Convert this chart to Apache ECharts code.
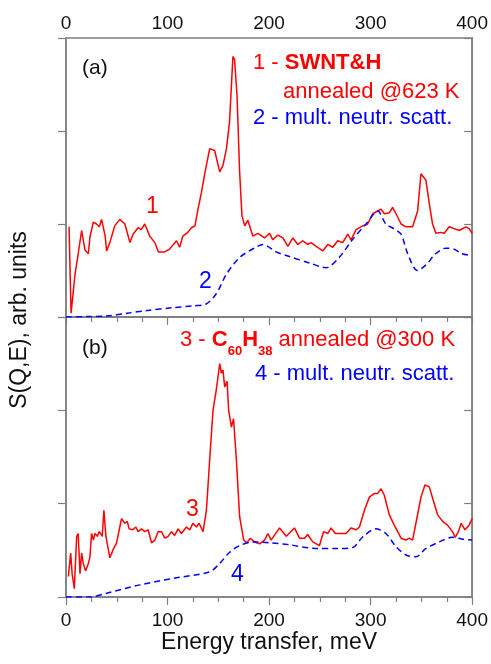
<!DOCTYPE html>
<html>
<head>
<meta charset="utf-8">
<script src="https://cdn.jsdelivr.net/npm/echarts@6/dist/echarts.min.js"></script>
<style>
  html, body { margin: 0; padding: 0; background: #fff; }
  #chart { width: 491px; height: 664px; }
</style>
</head>
<body>
<div id="chart"></div>
<script>
// (a) SWNT&H annealed @623 K, curve 1
var energy1 = [3, 5, 9, 12, 15.4, 18.7, 22, 23.6, 26.9,
  30, 32.9, 35, 38.6, 40, 43.2, 48, 53, 58, 63,
  66, 71, 74, 77.6, 82.5, 87.5, 91, 97, 102, 108.8,
  112, 115, 120, 123.5, 127, 130, 133.4, 136.6, 138, 141.5,
  146.4, 151.4, 154.6, 158, 161, 164.4, 166, 168.4, 171, 173.3,
  176, 179, 184, 189, 195.6, 200.5, 203.7, 208.6, 213.6, 218.5,
  223.4, 228.3, 233.2, 238, 241.4, 246.4, 252.9, 257.8, 262.7, 267.6,
  272.5, 277.5, 280.7, 285.7, 292.2, 297.1, 302, 307, 310.3, 313.5,
  318.4, 321.7, 325, 330, 334.8, 341.4, 346.3, 349.6, 354.5, 357.8,
  361, 364.3, 369.2, 372.5, 377.4, 382.3, 387.2, 393.8, 397, 400];
var sqe1 = [0.97, 0.04, 0.47, 0.68, 0.93, 0.72, 0.68, 0.86, 1.02,
  1.00, 0.97, 1.05, 0.87, 0.71, 0.80, 0.98, 1.05, 1.00, 0.80,
  0.89, 0.96, 0.94, 1.00, 0.87, 0.80, 0.70, 0.70, 0.73, 0.82,
  0.75, 0.87, 0.91, 0.96, 0.98, 1.16, 1.34, 1.54, 1.56, 1.81,
  1.79, 1.56, 1.63, 1.81, 2.09, 2.80, 2.77, 2.39, 1.56, 1.09,
  0.98, 1.04, 0.87, 0.90, 0.85, 0.90, 0.83, 0.88, 0.85, 0.76,
  0.85, 0.78, 0.82, 0.78, 0.80, 0.76, 0.71, 0.78, 0.75, 0.82,
  0.80, 0.89, 0.83, 0.94, 0.98, 1.00, 1.11, 1.14, 1.16, 1.11,
  1.12, 1.18, 1.11, 1.00, 0.97, 0.97, 1.14, 1.54, 1.47, 1.22,
  1.00, 0.90, 0.91, 0.90, 0.97, 0.95, 0.93, 0.97, 0.95, 0.90];

// (a) multiple neutron scattering, curve 2
var energy2 = [0, 20, 40, 60, 80, 105, 125, 138, 148, 158,
  171, 187, 194, 207, 220, 240, 256, 269, 282, 295.5,
  307, 315, 323, 330, 336.5, 346, 354.5, 364, 374, 382, 390, 400];
var sqe2 = [0, 0.005, 0.01, 0.04, 0.07, 0.10, 0.12, 0.14, 0.25, 0.46,
  0.64, 0.75, 0.78, 0.70, 0.65, 0.58, 0.53, 0.64, 0.83, 1.00,
  1.14, 1.00, 0.95, 0.89, 0.68, 0.50, 0.56, 0.68, 0.74, 0.73, 0.68, 0.66];

// (b) C60H38 annealed @300 K, curve 3
var energy3 = [2.3, 4.6, 6, 8.2, 10.5, 12, 13.8, 15.4, 17, 19.3,
  22, 23.6, 25.2, 27, 28.5, 30.8, 32.8, 34.4, 35.7, 37.3,
  39.3, 43.2, 46.5, 49.8, 53, 54.7, 58, 60.3, 62.2, 65.5,
  68.8, 71, 74.4, 77.6, 80.9, 84.2, 87.5, 90.7, 94, 97.3,
  100.6, 103.9, 107, 110.4, 113.7, 118.6, 121.9, 125, 128.5, 131,
  135, 138.3, 141.5, 144.8, 148, 149.7, 151.4, 153, 154.6, 156.3,
  158.6, 160.2, 162.9, 165, 167.8, 171, 175, 178, 181.5, 185.7,
  190.7, 195.6, 198.8, 202, 210.3, 216.9, 225, 230, 235, 238,
  243, 249.6, 253.6, 257.8, 261, 265.3, 275.8, 280.7, 285.7, 289,
  293.9, 298.8, 303.7, 307, 310.3, 313.5, 318.4, 323.3, 330, 334.8,
  338, 341.4, 344.6, 349.6, 353.5, 357.8, 362.7, 366, 370.9, 375.7,
  380.6, 383.3, 386.5, 389.2, 393, 397, 400];
var sqe3 = [0.22, 0.47, 0.25, 0.09, 0.65, 0.68, 0.25, 0.47, 0.36, 0.28,
  0.36, 0.43, 0.68, 0.61, 0.68, 0.65, 0.70, 0.72, 0.65, 0.93,
  0.65, 0.42, 0.51, 0.58, 0.75, 0.84, 0.79, 0.81, 0.73, 0.72,
  0.75, 0.70, 0.73, 0.70, 0.72, 0.58, 0.61, 0.70, 0.70, 0.63,
  0.65, 0.70, 0.66, 0.73, 0.68, 0.75, 0.72, 0.79, 0.75, 0.79,
  0.70, 0.93, 1.47, 2.00, 2.22, 2.36, 2.50, 2.40, 2.43, 2.25,
  2.31, 2.00, 1.82, 1.91, 1.47, 0.86, 0.61, 0.58, 0.63, 0.59,
  0.57, 0.61, 0.68, 0.61, 0.74, 0.65, 0.74, 0.63, 0.63, 0.67,
  0.59, 0.55, 0.70, 0.68, 0.74, 0.68, 0.68, 0.74, 0.72, 0.75,
  0.93, 1.07, 1.11, 1.11, 1.16, 1.09, 0.88, 0.77, 0.63, 0.61,
  0.63, 0.61, 0.79, 1.07, 1.20, 1.18, 1.00, 0.88, 0.81, 0.77,
  0.70, 0.64, 0.70, 0.79, 0.72, 0.77, 0.84];

// (b) multiple neutron scattering, curve 4
var energy4 = [0, 23.6, 40, 72.7, 105.5, 141.5, 151.4, 161.2, 171, 184,
  200.5, 220, 246, 266, 282.3, 292, 305, 315, 325, 334.8,
  344.6, 354.5, 367.5, 380.6, 390.5, 400];
var sqe4 = [0, 0, 0.04, 0.13, 0.20, 0.27, 0.36, 0.48, 0.55, 0.59,
  0.58, 0.56, 0.52, 0.52, 0.53, 0.64, 0.73, 0.68, 0.54, 0.45,
  0.43, 0.52, 0.59, 0.64, 0.62, 0.61];

var xTicks = [0, 100, 200, 300, 400];

function zip(xs, ys) {
  return xs.map(function (x, i) { return [x, ys[i]]; });
}

var FONT = "'Liberation Sans', Arial, sans-serif";
var RED = "#ff0000";
var BLUE = "#0000ff";
var AXIS = "#7f7f7f";

var chart = echarts.init(document.getElementById("chart"));

function yAx(grid, pos) {
  return {
    type: "value", gridIndex: grid, position: pos,
    min: 0, max: 3, interval: 1,
    axisLine: { show: true, lineStyle: { color: AXIS, width: 1.5 } },
    axisTick: { show: true, inside: pos === "right", length: 8, lineStyle: { color: AXIS, width: 1.2 } },
    axisLabel: { show: false },
    splitLine: { show: false }
  };
}

function xAx(grid, pos) {
  return {
    type: "value", gridIndex: grid, position: pos,
    min: xTicks[0], max: xTicks[xTicks.length - 1], interval: 100,
    axisLine: { show: true, lineStyle: { color: AXIS, width: 1.5 } },
    axisTick: { show: true, inside: pos === "top", length: 8, lineStyle: { color: AXIS, width: 1.2 } },
    minorTick: { show: true, splitNumber: 4, length: 5, lineStyle: { color: AXIS, width: 1.2 } },
    axisLabel: { color: "#111", fontSize: 19, fontFamily: FONT, margin: pos === "top" ? 5 : 14 },
    splitLine: { show: false }
  };
}

var bottomX = xAx(1, "bottom");
bottomX.name = "Energy transfer, meV";
bottomX.nameLocation = "middle";
bottomX.nameGap = 33;
bottomX.nameTextStyle = { color: "#111", fontSize: 23, fontFamily: FONT };

function txt(x, y, text, color, size, extra) {
  var s = { text: text, fill: color, fontSize: size, fontFamily: FONT, align: "left", verticalAlign: "middle" };
  for (var k in extra) s[k] = extra[k];
  return { type: "text", x: x, y: y, z: 100, style: s };
}

var option = {
  animation: false,
  backgroundColor: "#fff",
  grid: [
    { left: 66, top: 38, width: 407, height: 279, show: true, borderColor: AXIS, borderWidth: 1.5 },
    { left: 66, top: 317, width: 407, height: 280, show: true, borderColor: AXIS, borderWidth: 1.5 }
  ],
  xAxis: [xAx(0, "top"), bottomX],
  yAxis: [yAx(0, "left"), yAx(0, "right"), yAx(1, "left"), yAx(1, "right")],
  series: [
    { type: "line", xAxisIndex: 0, yAxisIndex: 0, data: zip(energy1, sqe1), symbol: "none",
      lineStyle: { color: RED, width: 1.5 } },
    { type: "line", xAxisIndex: 0, yAxisIndex: 0, data: zip(energy2, sqe2), symbol: "none", smooth: 0.3,
      lineStyle: { color: BLUE, width: 1.5, type: [6, 4] } },
    { type: "line", xAxisIndex: 1, yAxisIndex: 2, data: zip(energy3, sqe3), symbol: "none",
      lineStyle: { color: RED, width: 1.5 } },
    { type: "line", xAxisIndex: 1, yAxisIndex: 2, data: zip(energy4, sqe4), symbol: "none", smooth: 0.3,
      lineStyle: { color: BLUE, width: 1.5, type: [6, 4] } }
  ],
  graphic: [
    { type: "text", x: 20, y: 320, rotation: Math.PI / 2,
      style: { text: "S(Q,E), arb. units", fill: "#111", fontSize: 23, fontFamily: FONT, align: "center", verticalAlign: "middle" } },
    txt(82, 68, "(a)", "#111", 21),
    txt(82, 348, "(b)", "#111", 21),
    txt(146, 207, "1", RED, 23),
    txt(199, 282, "2", BLUE, 23),
    txt(186, 510, "3", RED, 23),
    txt(231, 575, "4", BLUE, 23),
    txt(253, 63, "{n|1 - }{b|SWNT&H}", RED, 22, {
      rich: { n: { fill: RED, fontSize: 22, fontFamily: FONT }, b: { fill: RED, fontSize: 22, fontWeight: "bold", fontFamily: FONT } }
    }),
    txt(283, 92, "annealed @623 K", RED, 22),
    txt(253, 118, "2 - mult. neutr. scatt.", BLUE, 22),
    txt(180, 340, "{n|3 - }{b|C}{s|60}{b|H}{s|38}{n| annealed @300 K}", RED, 22, {
      rich: {
        n: { fill: RED, fontSize: 22, fontFamily: FONT },
        b: { fill: RED, fontSize: 22, fontWeight: "bold", fontFamily: FONT },
        s: { fill: RED, fontSize: 13, fontWeight: "bold", fontFamily: FONT, padding: [22, 0, 0, 0] }
      }
    }),
    txt(255, 374, "4 - mult. neutr. scatt.", BLUE, 22)
  ]
};

chart.setOption(option);
</script>
</body>
</html>
